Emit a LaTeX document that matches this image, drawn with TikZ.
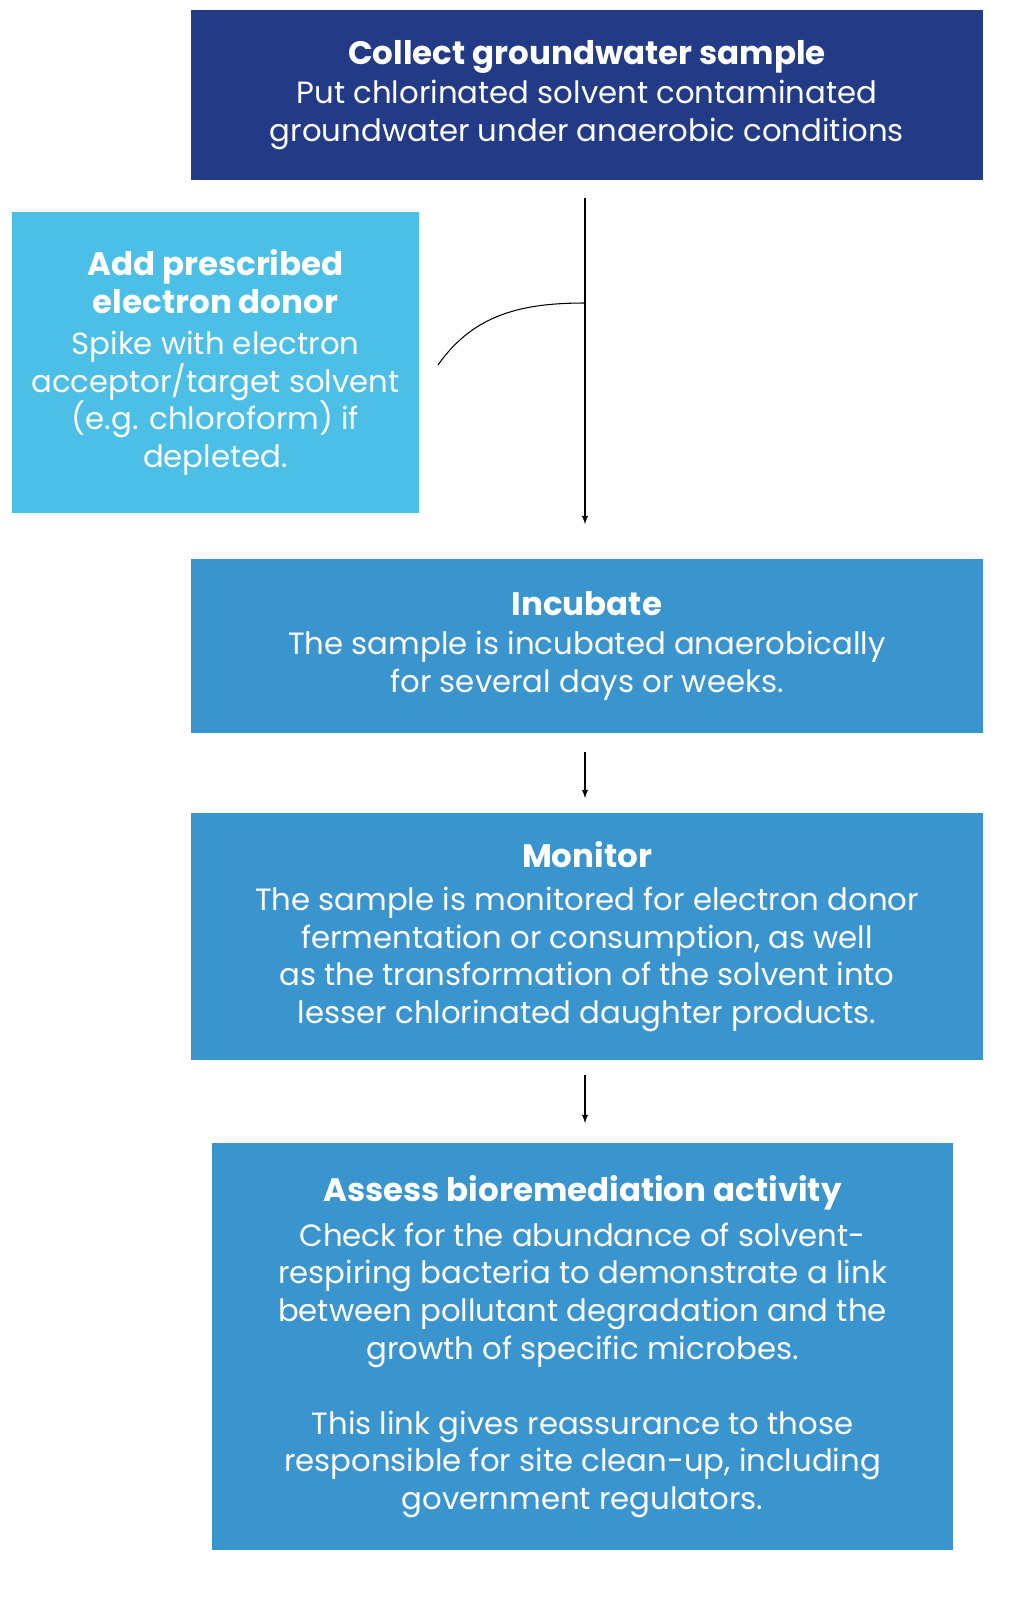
\documentclass[tikz,border=0pt]{standalone}
\usepackage{fontspec}
\setmainfont{Poppins}
\usetikzlibrary{positioning}
\definecolor{navy}{HTML}{233B87}
\definecolor{sky}{HTML}{4BBFE6}
\definecolor{steel}{HTML}{3A95CF}
\tikzset{
  stage/.style={fill=#1,text=white,align=center,inner sep=0pt,font=\fontsize{17.5}{21.5}\selectfont},
  flow/.style={-latex,semithick}
}
\newcommand{\hd}{\bfseries\fontsize{18.5}{21.5}\selectfont}
\begin{document}
\begin{tikzpicture}[x=0.02cm,y=-0.02cm]
        \useasboundingbox (0,0) rectangle (1014,1600);

        % Boxes
        \node[stage=navy,minimum width=15.84cm,minimum height=3.4cm] (collect) at (587,95)
          {\hd Collect groundwater sample\\[1pt]
           \mdseries Put chlorinated solvent contaminated\\groundwater under anaerobic conditions};
        \node[stage=sky,minimum width=8.14cm,minimum height=6.02cm] (donor) at (215.5,362.5)
          {\hd Add prescribed\\\hd electron donor\\[2pt]
           \mdseries Spike with electron\\acceptor/target solvent\\(e.g. chloroform) if\\depleted.};
        \node[stage=steel,minimum width=15.84cm,minimum height=3.48cm] (incubate) at (587,646)
          {\hd Incubate\\[1pt]
           \mdseries The sample is incubated anaerobically\\for several days or weeks.};
        \node[stage=steel,minimum width=15.84cm,minimum height=4.94cm] (monitor) at (587,936.5)
          {\hd Monitor\\[3pt]
           \mdseries The sample is monitored for electron donor\\fermentation or consumption, as well\\
           as the transformation of the solvent into\\lesser chlorinated daughter products.};
        \node[stage=steel,minimum width=14.82cm,minimum height=8.14cm] (assess) at (582.5,1346.5)
          {\hd Assess bioremediation activity\\[4pt]
           \mdseries Check for the abundance of solvent-\\respiring bacteria to demonstrate a link\\
           between pollutant degradation and the\\growth of specific microbes.\\[21pt]
           This link gives reassurance to those\\responsible for site clean-up, including\\
           government regulators.};

        % Connectors
        \coordinate (top) at (585,198);
        \coordinate (join) at (585,303);
        \coordinate (bend) at (438,365);
        \coordinate (end1) at (585,524);
        \coordinate (a1) at (585,752);
        \coordinate (a2) at (585,798);
        \coordinate (b1) at (585,1075);
        \coordinate (b2) at (585,1123);
        \draw[flow] (top) -- (end1);
        \draw[semithick] (bend) to[out=55,in=180] (join);
        \draw[flow] (a1) -- (a2);
        \draw[flow] (b1) -- (b2);
      \end{tikzpicture}
\end{document}
